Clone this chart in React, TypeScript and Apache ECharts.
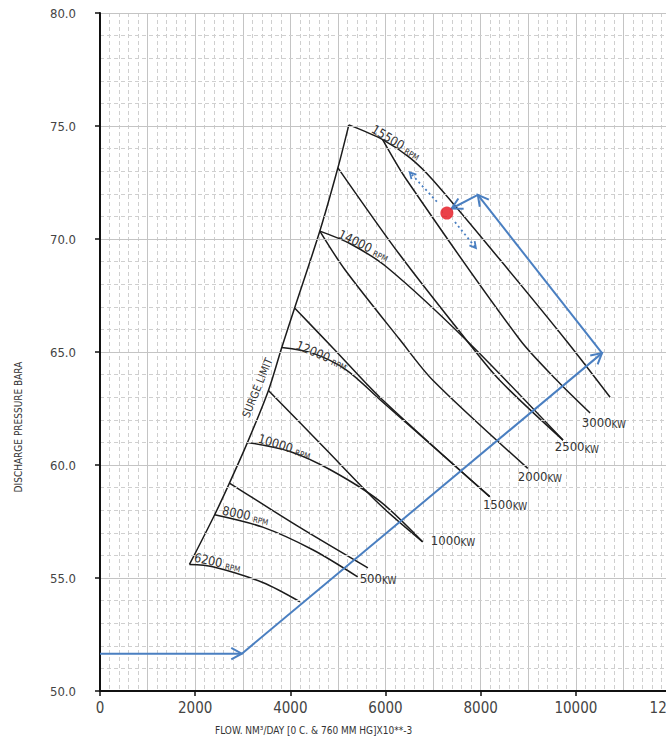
import React, { useEffect, useRef } from 'react';
import * as echarts from 'echarts';

const FONT = "'Liberation Sans Narrow', 'DejaVu Sans Condensed', 'Arial Narrow', sans-serif";
const BLUE = '#4a7fc1';
const INK = '#1c1c1c';

// axis ranges
const X_MIN = 0, X_MAX = 12000, X_STEP = 2000, X_GRID = 1000;
const Y_MIN = 50, Y_MAX = 80, Y_STEP = 5;

// surge limit
const surgeLimit = [[1880, 55.6], [2410, 57.8], [2720, 59.2], [3100, 61.0], [3540, 63.3], [3820, 65.2], [4090, 66.95], [4620, 70.35], [5000, 73.15], [5230, 75.05]];

// speed lines
const rpm15500 = [[5230, 75.05], [5940, 74.4], [6510, 73.6], [7000, 72.6], [8400, 69.1], [9800, 65.5], [10720, 63.0]];
const rpm14000 = [[4620, 70.35], [5250, 69.8], [6030, 68.75], [7710, 65.5], [9730, 61.1]];
const rpm12000 = [[3820, 65.2], [4470, 64.95], [5180, 64.2], [5880, 62.9], [8190, 58.6]];
const rpm10000 = [[3100, 61.0], [3990, 60.6], [4830, 59.8], [5880, 58.4], [6780, 56.6]];
const rpm8000 = [[2410, 57.8], [3420, 57.25], [4470, 56.25], [5415, 55.05]];
const rpm6200 = [[1880, 55.6], [2370, 55.5], [3420, 54.8], [4200, 53.95]];

// power lines
const kw3000 = [[5940, 74.4], [6450, 72.6], [8820, 65.55], [9600, 63.75], [10300, 62.3]];
const kw2500 = [[5000, 73.15], [6300, 69.3], [7710, 65.5], [8400, 63.75], [9730, 61.1]];
const kw2000 = [[4620, 70.35], [5145, 68.65], [6300, 65.55], [6995, 63.75], [8990, 59.85]];
const kw1500 = [[4090, 66.95], [4930, 65.1], [5880, 63.0], [8190, 58.6]];
const kw1000 = [[3540, 63.3], [4720, 60.75], [5880, 58.25], [6780, 56.6]];
const kw500 = [[2720, 59.2], [4190, 57.25], [5630, 55.45]];

// annotation arrows [x1, y1, x2, y2]
const flowArrows = [[0, 51.65, 2980, 51.65], [2980, 51.65, 10550, 64.95], [10550, 64.95, 7940, 71.95], [7940, 71.95, 7390, 71.35]];
const dottedArrows = [[7080, 71.65, 6510, 72.95], [7460, 70.75, 7900, 69.6]];
const operatingPoint = [[7290, 71.15]];

// labels
const rpmLabels = ['15500', '14000', '12000', '10000', '8000', '6200'];
const rpmLabelAnchors = [[6224, 74.29, -31], [5545, 69.73, -26], [4664, 64.87, -23], [3880, 60.84, -17], [3060, 57.79, -12], [2470, 55.71, -12]];
const kwLabels = ['3000', '2500', '2000', '1500', '1000', '500'];
const kwLabelAnchors = [[10126, 61.9], [9558, 60.8], [8780, 59.51], [8047, 58.27], [6953, 56.68], [5457, 55.0]];
const surgeLabel = 'SURGE LIMIT';
const surgeLabelAnchor = [[3313, 63.41, 68]];

const X_NAME = 'FLOW. NM³/DAY [0 C. & 760 MM HG]X10**-3';
const Y_NAME = 'DISCHARGE PRESSURE BARA';

export default function App() {
  const ref = useRef<HTMLDivElement>(null);
  useEffect(() => {
    const chart = echarts.init(ref.current!, null, { renderer: 'svg' });

    const curve = (name: string, data: number[][]) => ({
      type: 'line', name, data, xAxisIndex: 0, yAxisIndex: 0, smooth: 0.3,
      showSymbol: false, symbol: 'none', silent: true, z: 3,
      lineStyle: { color: INK, width: 1.5 },
    });

    const arrowRender = (headLen: number, lw: number, dash: any) => (params: any, api: any) => {
      const p1 = api.coord([api.value(0), api.value(1)]);
      const p2 = api.coord([api.value(2), api.value(3)]);
      const a = Math.atan2(p2[1] - p1[1], p2[0] - p1[0]);
      const s = 0.5;
      const h1 = [p2[0] - headLen * Math.cos(a - s), p2[1] - headLen * Math.sin(a - s)];
      const h2 = [p2[0] - headLen * Math.cos(a + s), p2[1] - headLen * Math.sin(a + s)];
      return {
        type: 'group',
        children: [
          { type: 'line', shape: { x1: p1[0], y1: p1[1], x2: p2[0], y2: p2[1] }, style: { stroke: BLUE, lineWidth: lw, lineDash: dash } },
          { type: 'polyline', shape: { points: [h1, p2, h2] }, style: { stroke: BLUE, lineWidth: lw, fill: 'none' } },
        ],
      };
    };

    const option: any = {
      animation: false,
      backgroundColor: '#fff',
      grid: { left: 100, right: -5, top: 13, bottom: 47, containLabel: false, outerBoundsMode: 'none' },
      xAxis: [
        {
          type: 'value', min: X_MIN, max: X_MAX, interval: X_STEP,
          axisLine: { show: true, onZero: false, lineStyle: { color: '#111', width: 2 } },
          axisTick: { show: true, length: 5, lineStyle: { color: '#111', width: 1.5 } },
          axisLabel: { fontSize: 15, color: '#444', margin: 9, fontFamily: FONT, formatter: (v: number) => String(v) },
          splitLine: { show: false },
          z: 5,
        },
        {
          type: 'value', min: X_MIN, max: X_MAX, interval: X_GRID, position: 'bottom',
          axisLine: { show: false }, axisTick: { show: false }, axisLabel: { show: false },
          splitLine: { show: true, lineStyle: { color: '#c4c4c4', width: 1 } },
          minorTick: { show: false, splitNumber: 5 },
          minorSplitLine: { show: true, lineStyle: { color: '#cfcfcf', width: 1, type: [4, 3] } },
          z: 0,
        },
      ],
      yAxis: {
        type: 'value', min: Y_MIN, max: Y_MAX, interval: Y_STEP,
        axisLine: { show: true, onZero: false, lineStyle: { color: '#111', width: 2 } },
        axisTick: { show: true, length: 5, lineStyle: { color: '#111', width: 1.5 } },
        axisLabel: { fontSize: 13, color: '#444', margin: 24, fontFamily: FONT, formatter: (v: number) => v.toFixed(1) },
        splitLine: { show: true, lineStyle: { color: '#c4c4c4', width: 1 } },
        minorTick: { show: false, splitNumber: 5 },
        minorSplitLine: { show: true, lineStyle: { color: '#cfcfcf', width: 1, type: [4, 3] } },
        z: 5,
      },
      graphic: [
        { type: 'text', left: 215, top: 725, style: { text: X_NAME, fontSize: 10, fontFamily: FONT, fill: '#333' } },
        { type: 'text', x: 18, y: 427, rotation: Math.PI / 2, style: { text: Y_NAME, fontSize: 10, fontFamily: FONT, fill: '#333', align: 'center', verticalAlign: 'middle' } },
      ],
      series: [
        curve('surge', surgeLimit),
        curve('15500', rpm15500), curve('14000', rpm14000), curve('12000', rpm12000),
        curve('10000', rpm10000), curve('8000', rpm8000), curve('6200', rpm6200),
        curve('3000kw', kw3000), curve('2500kw', kw2500), curve('2000kw', kw2000),
        curve('1500kw', kw1500), curve('1000kw', kw1000), curve('500kw', kw500),
        {
          type: 'custom', name: 'flow', data: flowArrows, silent: true, z: 6,
          encode: { x: [0, 2], y: [1, 3] },
          renderItem: arrowRender(12, 2, null),
        },
        {
          type: 'custom', name: 'dotted', data: dottedArrows, silent: true, z: 6,
          encode: { x: [0, 2], y: [1, 3] },
          renderItem: arrowRender(7, 1.8, [2, 3]),
        },
        {
          type: 'scatter', name: 'point', data: operatingPoint, symbolSize: 13, silent: true, z: 7,
          itemStyle: { color: '#e5121b' },
        },
        {
          type: 'custom', name: 'rpmLabels', data: rpmLabelAnchors, silent: true, z: 8,
          renderItem: (params: any, api: any) => {
            const p = api.coord([api.value(0), api.value(1)]);
            return {
              type: 'text', x: p[0], y: p[1], rotation: (api.value(2) * Math.PI) / 180,
              style: {
                text: `{a|${rpmLabels[params.dataIndex]}} {b|RPM}`,
                align: 'center', verticalAlign: 'middle',
                rich: {
                  a: { fontSize: 12.5, fontFamily: FONT, fill: '#333', lineHeight: 14 },
                  b: { fontSize: 8, fontFamily: FONT, fill: '#333', lineHeight: 14, verticalAlign: 'bottom' },
                },
              },
            };
          },
        },
        {
          type: 'custom', name: 'kwLabels', data: kwLabelAnchors, silent: true, z: 8,
          renderItem: (params: any, api: any) => {
            const p = api.coord([api.value(0), api.value(1)]);
            return {
              type: 'text', x: p[0], y: p[1],
              style: {
                text: `{a|${kwLabels[params.dataIndex]}}{b|KW}`,
                align: 'left', verticalAlign: 'middle',
                rich: {
                  a: { fontSize: 13, fontFamily: FONT, fill: '#333', lineHeight: 15 },
                  b: { fontSize: 10, fontFamily: FONT, fill: '#333', lineHeight: 15, verticalAlign: 'bottom' },
                },
              },
            };
          },
        },
        {
          type: 'custom', name: 'surgeLabel', data: surgeLabelAnchor, silent: true, z: 8,
          renderItem: (params: any, api: any) => {
            const p = api.coord([api.value(0), api.value(1)]);
            return {
              type: 'text', x: p[0], y: p[1], rotation: (api.value(2) * Math.PI) / 180,
              style: { text: surgeLabel, fontSize: 11, fontFamily: FONT, fill: '#333', align: 'center', verticalAlign: 'middle' },
            };
          },
        },
      ],
    };

    chart.setOption(option);
    return () => chart.dispose();
  }, []);

  return <div ref={ref} style={{ position: 'fixed', left: 0, top: 0, width: 666, height: 738, background: '#fff' }} />;
}
